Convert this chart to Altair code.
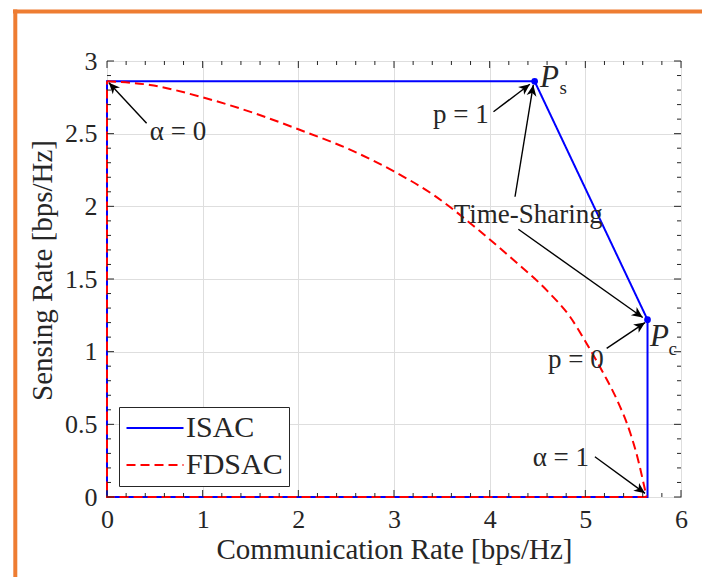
import math
import altair as alt
import pandas as pd

# ---------------- data ----------------
series_names = ["ISAC", "FDSAC"]
series_colors = ["#0000ff", "#ff0000"]

isac_x = [0, 0, 4.47, 5.65, 5.65, 0]
isac_y = [0, 2.86, 2.86, 1.22, 0, 0]

# FDSAC: axis edges + boundary curve
fdsac_edge_x = [5.64, 0, 0]
fdsac_edge_y = [0, 0, 2.86]
fdsac_x = [0, 0.45, 1, 1.5, 2, 2.54, 3, 3.41, 3.86, 4.25, 4.6, 4.84, 5.01, 5.19, 5.33,
           5.47, 5.55, 5.61, 5.64]
fdsac_y = [2.86, 2.835, 2.75, 2.65, 2.53, 2.39, 2.24, 2.08, 1.85, 1.63, 1.42, 1.24, 1.06,
           0.85, 0.67, 0.44, 0.26, 0.09, 0]

corner_x = [4.47, 5.65]
corner_y = [2.86, 1.22]
corner_main = ["P", "P"]
corner_main_x = [4.526, 5.676]
corner_main_y = [2.883, 1.103]
corner_sub = ["s", "c"]
corner_sub_x = [4.73, 5.87]
corner_sub_y = [2.815, 1.02]

arrow_tail_x = [0.414, 4.04, 4.265, 4.30, 5.223, 5.10]
arrow_tail_y = [2.571, 2.651, 2.066, 1.842, 1.023, 0.277]
arrow_head_x = [0.02, 4.42, 4.456, 5.60, 5.624, 5.624]
arrow_head_y = [2.85, 2.84, 2.835, 1.235, 1.20, 0.025]

note_text = ["α = 0", "p = 1", "Time-Sharing", "p = 0", "α = 1"]
note_x = [0.742, 3.70, 4.404, 4.90, 4.744]
note_y = [2.514, 2.628, 1.94, 0.943, 0.266]

x_ticks = [0, 1, 2, 3, 4, 5, 6]
y_ticks = [0, 0.5, 1, 1.5, 2, 2.5, 3]
x_minor = [0.2 * i for i in range(31) if i % 5 != 0]
y_minor = [0.1 * i for i in range(31) if i % 5 != 0]

# ---------------- layout ----------------
W, H = 574, 436
XMAX, YMAX = 6, 3
FONT = "Liberation Serif"
INK = "#262626"

xs = alt.Scale(domain=[0, XMAX], nice=False, zero=False)
ys = alt.Scale(domain=[0, YMAX], nice=False, zero=False)

xaxis = alt.Axis(values=x_ticks, title="Communication Rate [bps/Hz]", grid=True,
                 gridColor="#dedede", ticks=False, domain=False, labelFlush=False,
                 labelFont=FONT, labelFontSize=26, labelColor=INK, labelPadding=9,
                 titleFont=FONT, titleFontSize=29, titleFontWeight="normal", titleColor=INK,
                 titleY=61, titleBaseline="alphabetic")
yaxis = alt.Axis(values=y_ticks, format="~g", title="Sensing Rate [bps/Hz]", grid=True,
                 gridColor="#dedede", ticks=False, domain=False, labelFlush=False,
                 labelFont=FONT, labelFontSize=26, labelColor=INK, labelPadding=10,
                 titleFont=FONT, titleFontSize=29, titleFontWeight="normal", titleColor=INK,
                 titleX=-65, titleY=209, titleBaseline="middle", titleAlign="center")

X = lambda f="x": alt.X(f"{f}:Q", scale=xs, axis=xaxis)
Y = lambda f="y": alt.Y(f"{f}:Q", scale=ys, axis=yaxis)

# legend: long horizontal stroke symbol drawn with a custom path so the row height stays small
SYM = 19
leg = alt.Legend(title=None, orient="none", legendX=12, legendY=346,
                 symbolType="M-1.42,0 L4.58,0", symbolSize=SYM * SYM, symbolStrokeWidth=2,
                 labelFont=FONT, labelFontSize=30, labelColor=INK, labelOffset=31,
                 padding=6, rowPadding=7, strokeColor=INK, fillColor="white")
color_enc = alt.Color("series:N", scale=alt.Scale(domain=series_names, range=series_colors), legend=leg)
dash_enc = alt.StrokeDash("series:N", scale=alt.Scale(domain=series_names, range=[[1, 0], [9, 5]]), legend=leg)

df_isac = pd.DataFrame({"x": isac_x, "y": isac_y, "o": range(len(isac_x)), "series": "ISAC"})
df_fd_edge = pd.DataFrame({"x": fdsac_edge_x, "y": fdsac_edge_y, "o": range(len(fdsac_edge_x)), "series": "FDSAC"})
df_fd = pd.DataFrame({"x": fdsac_x, "y": fdsac_y, "o": range(len(fdsac_x)), "series": "FDSAC"})

isac_line = alt.Chart(df_isac).mark_line(strokeWidth=2).encode(
    x=X(), y=Y(), order="o:Q", color=color_enc, strokeDash=dash_enc)
fd_edge = alt.Chart(df_fd_edge).mark_line(strokeWidth=2).encode(
    x=X(), y=Y(), order="o:Q", color=color_enc, strokeDash=dash_enc)
fd_line = alt.Chart(df_fd).mark_line(strokeWidth=2, interpolate="monotone").encode(
    x=X(), y=Y(), order="o:Q", color=color_enc, strokeDash=dash_enc)

# inward ticks on all four sides
def tick_layer(vals, axis, side, length):
    d = pd.DataFrame({"v": vals})
    if axis == "x":
        y0 = H if side == "bottom" else 0
        y1 = H - length if side == "bottom" else length
        return alt.Chart(d).mark_rule(color=INK, strokeWidth=1).encode(
            x=X("v"), y=alt.value(y0), y2=alt.value(y1))
    x0 = 0 if side == "left" else W
    x1 = length if side == "left" else W - length
    return alt.Chart(d).mark_rule(color=INK, strokeWidth=1).encode(
        y=Y("v"), x=alt.value(x0), x2=alt.value(x1))

ticks = [tick_layer(x_ticks, "x", "bottom", 7), tick_layer(x_ticks, "x", "top", 7),
         tick_layer(x_minor, "x", "bottom", 4), tick_layer(x_minor, "x", "top", 4),
         tick_layer(y_ticks, "y", "left", 7), tick_layer(y_ticks, "y", "right", 7),
         tick_layer(y_minor, "y", "left", 4), tick_layer(y_minor, "y", "right", 4)]

# arrows
sx, sy = W / XMAX, H / YMAX
angles = [math.degrees(math.atan2((hx - tx) * sx, (hy - ty) * sy)) % 360
          for tx, ty, hx, hy in zip(arrow_tail_x, arrow_tail_y, arrow_head_x, arrow_head_y)]
df_arrow = pd.DataFrame({"x": arrow_tail_x, "y": arrow_tail_y,
                         "hx": arrow_head_x, "hy": arrow_head_y, "ang": angles})
arrow_lines = alt.Chart(df_arrow).mark_rule(color="#000000", strokeWidth=1.4).encode(
    x=X(), y=Y(), x2="hx:Q", y2="hy:Q")
head_path = "M0,0 L0.45,1 L0,0.72 L-0.45,1 Z"
arrow_heads = alt.Chart(df_arrow).mark_point(shape=head_path, filled=True, size=484,
                                             color="#000000", opacity=1, strokeWidth=0).encode(
    x=X("hx"), y=Y("hy"), angle=alt.Angle("ang:Q", scale=None))

df_note = pd.DataFrame({"x": note_x, "y": note_y, "t": note_text})
notes = alt.Chart(df_note).mark_text(font=FONT, fontSize=27, color=INK,
                                     align="center", baseline="middle").encode(
    x=X(), y=Y(), text="t:N")

df_dot = pd.DataFrame({"x": corner_x, "y": corner_y})
dots = alt.Chart(df_dot).mark_point(filled=True, size=45, color="#0000ff", opacity=1).encode(
    x=X(), y=Y())

df_pm = pd.DataFrame({"x": corner_main_x, "y": corner_main_y, "t": corner_main})
p_main = alt.Chart(df_pm).mark_text(font=FONT, fontSize=31, fontStyle="italic", color=INK,
                                    align="left", baseline="middle").encode(
    x=X(), y=Y(), text="t:N")
df_ps = pd.DataFrame({"x": corner_sub_x, "y": corner_sub_y, "t": corner_sub})
p_sub = alt.Chart(df_ps).mark_text(font=FONT, fontSize=19, color=INK,
                                   align="left", baseline="middle").encode(
    x=X(), y=Y(), text="t:N")

# orange frame around the figure
one = pd.DataFrame({"k": [0]})
frame_top = alt.Chart(one).mark_rule(color="#ee7d32", strokeWidth=4).encode(
    x=alt.value(-94), x2=alt.value(702 - 107), y=alt.value(11.5 - 61))
frame_left = alt.Chart(one).mark_rule(color="#ee7d32", strokeWidth=4).encode(
    x=alt.value(15.3 - 107), y=alt.value(9.5 - 61), y2=alt.value(577 - 61))

chart = alt.layer(isac_line, fd_edge, fd_line, *ticks, arrow_lines, arrow_heads, notes, dots,
                  p_main, p_sub, frame_top, frame_left).properties(
    width=W, height=H,
    autosize=alt.AutoSizeParams(type="none"),
    padding={"left": 107, "top": 61, "right": 21, "bottom": 80},
    background="white",
).configure_view(stroke=INK, strokeWidth=1)

chart.save("out.html", embed_options={"renderer": "svg", "actions": False})
